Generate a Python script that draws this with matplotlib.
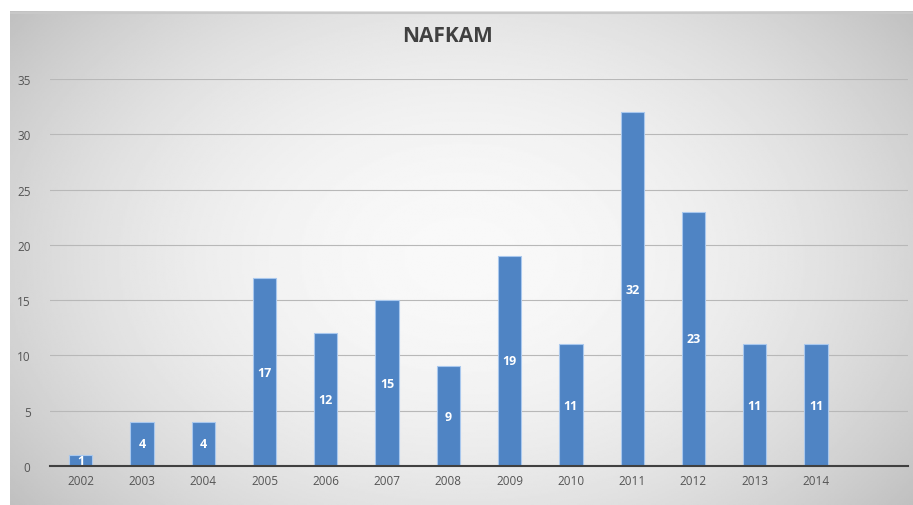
import numpy as np
import matplotlib
matplotlib.use("Agg")
import matplotlib.pyplot as plt

#: Data
years = ["2002", "2003", "2004", "2005", "2006", "2007", "2008",
         "2009", "2010", "2011", "2012", "2013", "2014"]
counts = [1, 4, 4, 17, 12, 15, 9, 19, 11, 32, 23, 11, 11]
yticks = [0, 5, 10, 15, 20, 25, 30, 35]

plt.rcParams['font.family'] = ['Open Sans', 'DejaVu Sans']

fig = plt.figure(figsize=(9.13, 5.06), dpi=100)
fig.patch.set_facecolor('white')

#: gray radial gradient background, like the Excel chart style
bg = fig.add_axes([10 / 913, 0, 903 / 913, 494 / 506])
yy, xx = np.mgrid[-1:1:300j, -1:1:500j]
r = np.sqrt((xx / 1.0) ** 2 + (yy / 1.3) ** 2)
shade = 0.975 - 0.14 * np.clip(r, 0, 1.3) ** 2
bg.imshow(shade, cmap='gray', vmin=0, vmax=1, aspect='auto',
          extent=[0, 1, 0, 1])
bg.plot([0, 1], [0.995, 0.995], color='#c8c8c8', lw=1.5)
bg.set_xlim(0, 1)
bg.set_ylim(0, 1)
bg.axis('off')

ax = fig.add_axes([50 / 913, 39 / 506, 858 / 913, 387 / 506])
ax.patch.set_alpha(0)
x = np.arange(len(years))
bars = ax.bar(x, counts, width=0.38, color='#4f84c4',
              edgecolor='#a9c8ee', linewidth=0.8, zorder=3)

#: white value labels inside the bars
for xi, v in zip(x, counts):
    ax.text(xi, v / 2, str(v), ha='center', va='center', color='white',
            fontsize=9, fontweight='bold', zorder=4)

ax.set_xlim(-0.5, 13.5)
ax.set_ylim(0, 35)
ax.set_yticks(yticks)
ax.set_xticks(x)
ax.set_xticklabels(years)
ax.tick_params(axis='both', length=0, labelsize=8.5, colors='#555555')
ax.tick_params(axis='y', pad=14)
ax.tick_params(axis='x', pad=6)
ax.grid(axis='y', color='#b8b8b8', linewidth=0.8, zorder=0)
for s in ['top', 'right', 'left']:
    ax.spines[s].set_visible(False)
ax.spines['bottom'].set_color('#404040')
ax.spines['bottom'].set_linewidth(1.5)
ax.spines['bottom'].set_zorder(5)

fig.text(0.49, 0.928, 'NAFKAM', ha='center', va='center', fontsize=15,
         fontweight='bold', color='#404040')

fig.savefig('out.png', dpi=100, facecolor='white')
